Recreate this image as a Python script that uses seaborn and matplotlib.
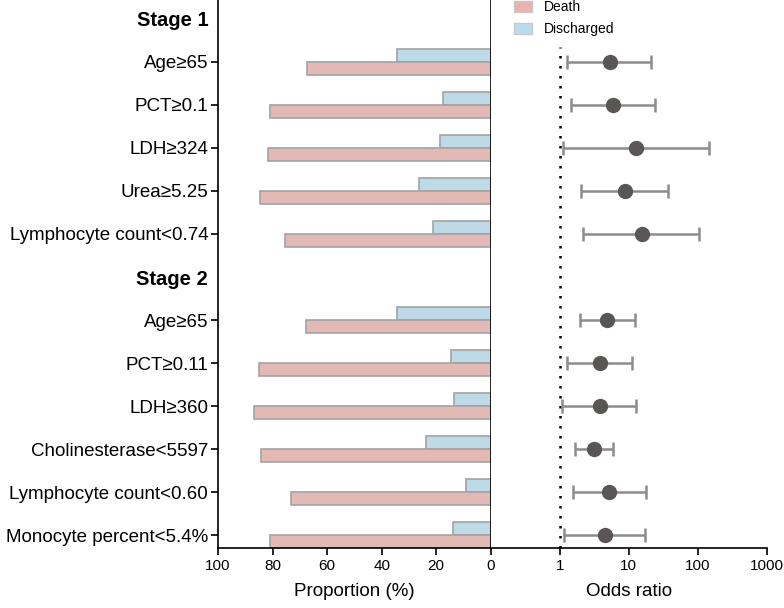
import numpy as np
import pandas as pd
import matplotlib
matplotlib.use("Agg")
import matplotlib.pyplot as plt
import seaborn as sns
from matplotlib.patches import Patch

# row labels (headers have no data)
labels = ["Stage 1", "Age≥65", "PCT≥0.1", "LDH≥324", "Urea≥5.25", "Lymphocyte count<0.74",
          "Stage 2", "Age≥65", "PCT≥0.11", "LDH≥360", "Cholinesterase<5597",
          "Lymphocyte count<0.60", "Monocyte percent<5.4%"]
headers = ["Stage 1", "Stage 2"]

# proportion (%) for each data row, in order
death = [67.5, 81.0, 81.6, 84.5, 75.3,
         67.8, 85.0, 86.7, 84.2, 73.4, 81.0]
discharged = [34.4, 17.5, 18.7, 26.4, 21.2,
              34.4, 14.4, 13.6, 23.8, 9.2, 13.9]

# odds ratio with 95% CI
odds = [5.3, 5.9, 12.9, 8.75, 15.3,
        4.9, 3.84, 3.84, 3.15, 5.18, 4.49]
ci_low = [1.29, 1.46, 1.12, 2.04, 2.2,
          1.97, 1.29, 1.09, 1.65, 1.53, 1.14]
ci_high = [21.3, 23.8, 144, 37, 105,
           12.2, 11.3, 12.9, 6.0, 17.5, 17.3]

pink = "#e9b3ae"
blue = "#b7dcee"

row_keys = ["r%d" % i for i in range(len(labels))]
data_keys = [k for k, lab in zip(row_keys, labels) if lab not in headers]

df = pd.DataFrame({
    "row": data_keys * 2,
    "value": death + discharged,
    "group": ["Death"] * len(death) + ["Discharged"] * len(discharged),
})

plt.rcParams["font.family"] = ["Liberation Sans", "DejaVu Sans"]

fig = plt.figure(figsize=(7.84, 6.08), dpi=100)
ax = fig.add_axes([0.278, 0.0987, 0.348, 0.9013])
ax2 = fig.add_axes([0.626, 0.0987, 0.352, 0.9013])

sns.barplot(data=df, x="value", y="row", hue="group", order=row_keys,
            hue_order=["Discharged", "Death"], orient="h", width=0.62,
            palette={"Death": pink, "Discharged": blue}, edgecolor="#a3a3a3",
            linewidth=1.2, errorbar=None, legend=False, ax=ax)

ylim = (12.3, -0.44)
ax.set_xlim(100, 0)
ax.set_ylim(*ylim)
ax.set_xticks([100, 80, 60, 40, 20, 0])
ax.set_yticks(range(len(labels)))
ax.set_yticklabels(labels, fontsize=13.5)
for i, lab in enumerate(labels):
    if lab in headers:
        ax.get_yticklabels()[i].set_fontweight("bold")
        ax.get_yticklabels()[i].set_fontsize(14.5)
        ax.yaxis.get_major_ticks()[i].tick1line.set_visible(False)
ax.tick_params(axis="x", labelsize=11, length=5, width=1.2, pad=3)
ax.tick_params(axis="y", length=5, width=1.2, pad=2)
ax.set_xlabel("Proportion (%)", fontsize=13.5, labelpad=7)
ax.set_ylabel("")
ax.spines["top"].set_visible(False)
for s in ["left", "right", "bottom"]:
    ax.spines[s].set_linewidth(1.2)
    ax.spines[s].set_color("black")

# forest plot
pos = [row_keys.index(k) for k in data_keys]
odds = np.array(odds)
xerr = [odds - np.array(ci_low), np.array(ci_high) - odds]
ax2.axvline(1, ymin=0, ymax=0.915, color="black", linestyle=(0, (1, 3)),
            linewidth=1.8, zorder=1)
ax2.errorbar(odds, pos, xerr=xerr, fmt="o", color="#5b5656", ecolor="#8c8c8c",
             elinewidth=1.8, capsize=5, capthick=1.8, markersize=10, zorder=3)
ax2.set_xscale("log")
ax2.set_xlim(0.1, 1000)
ax2.set_ylim(*ylim)
ax2.set_xticks([1, 10, 100, 1000])
ax2.set_xticklabels(["1", "10", "100", "1000"])
ax2.minorticks_off()
ax2.set_yticks([])
ax2.tick_params(axis="x", labelsize=11, length=5, width=1.2, pad=3)
ax2.set_xlabel("Odds ratio", fontsize=13.5, labelpad=7)
for s in ["top", "right", "left"]:
    ax2.spines[s].set_visible(False)
ax2.spines["bottom"].set_linewidth(1.2)

handles = [Patch(facecolor=pink, edgecolor="#c8c8c8", label="Death"),
           Patch(facecolor=blue, edgecolor="#c8c8c8", label="Discharged")]
ax2.legend(handles=handles, loc="upper left", bbox_to_anchor=(0.04, 1.022),
           frameon=False, fontsize=10, handlelength=1.3, handleheight=0.8,
           labelspacing=0.55, handletextpad=0.8)

fig.savefig("out.png", dpi=100)
